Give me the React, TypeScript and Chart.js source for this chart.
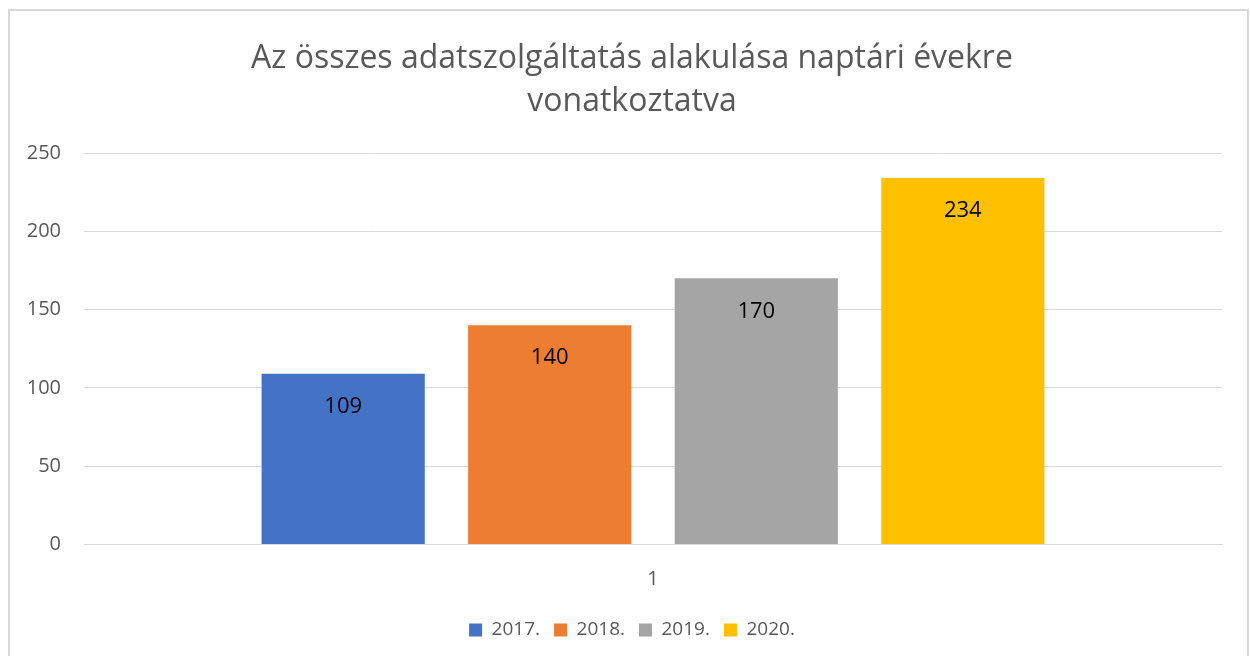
import React, { useEffect, useRef } from "react";
import { Chart, registerables } from "chart.js";

Chart.register(...registerables);

const categories = ["1"];
const seriesLabels = ["2017.", "2018.", "2019.", "2020."];
const values2017 = [109];
const values2018 = [140];
const values2019 = [170];
const values2020 = [234];
const seriesColors = ["#4472C4", "#ED7D31", "#A5A5A5", "#FFC000"];
const titleLines = ["Az összes adatszolgáltatás alakulása naptári évekre", "vonatkoztatva"];
const yMin = 0;
const yMax = 250;
const yStep = 50;

const FONT = "'Open Sans', 'Noto Sans', sans-serif";

const borderPlugin = {
  id: "outerBorder",
  beforeDraw(chart: any) {
    const ctx = chart.ctx;
    ctx.save();
    ctx.fillStyle = "#ffffff";
    ctx.fillRect(0, 0, chart.width, chart.height);
    ctx.strokeStyle = "#d9d9d9";
    ctx.lineWidth = 2;
    ctx.strokeRect(9, 10, 1239, 700);
    ctx.restore();
  },
};

// centre title and legend over the plot area (like the original) instead of the whole canvas
const centerPlugin = {
  id: "centerOverPlot",
  afterLayout(chart: any) {
    const shift = (chart.chartArea.left - chart.titleBlock.left) / 2 - 21;
    if (chart.titleBlock) chart.titleBlock.left += shift * 2;
    if (chart.legend) chart.legend.left += shift * 2;
  },
};

const valueLabelPlugin = {
  id: "valueLabels",
  afterDatasetsDraw(chart: any) {
    const ctx = chart.ctx;
    ctx.save();
    ctx.font = `22px ${FONT}`;
    ctx.fillStyle = "#000000";
    ctx.textAlign = "center";
    ctx.textBaseline = "middle";
    chart.data.datasets.forEach((ds: any, i: number) => {
      const meta = chart.getDatasetMeta(i);
      meta.data.forEach((el: any, j: number) => {
        ctx.fillText(String(ds.data[j]), el.x, el.y + 33);
      });
    });
    ctx.restore();
  },
};

export default function App() {
  const ref = useRef<HTMLCanvasElement | null>(null);
  useEffect(() => {
    document.body.style.overflow = "hidden";
    const allValues = [values2017, values2018, values2019, values2020];
    const chart = new Chart(ref.current as HTMLCanvasElement, {
      type: "bar",
      data: {
        labels: categories,
        datasets: seriesLabels.map((label, i) => ({
          label,
          data: allValues[i],
          backgroundColor: seriesColors[i],
          borderWidth: 0,
          categoryPercentage: 0.726,
          barPercentage: 0.79,
        })),
      },
      plugins: [borderPlugin, centerPlugin, valueLabelPlugin],
      options: {
        responsive: false,
        animation: false,
        layout: { padding: { left: 26, right: 28, top: 0, bottom: 6.6 } },
        plugins: {
          title: {
            display: true,
            text: titleLines,
            color: "#595959",
            font: { family: FONT, size: 32, weight: "normal", lineHeight: 1.344 },
            padding: { top: 37, bottom: 30 },
          },
          legend: {
            display: true,
            position: "bottom",
            labels: {
              boxWidth: 13,
              boxHeight: 13,
              color: "#595959",
              font: { family: FONT, size: 19 },
              padding: 14,
            },
          },
          tooltip: { enabled: false },
        },
        scales: {
          x: {
            grid: { display: false, drawTicks: false },
            border: { display: true, color: "#d9d9d9", width: 1, z: 1 },
            ticks: { color: "#595959", font: { family: FONT, size: 20 }, padding: 23 },
            afterFit(scale: any) {
              scale.height = 62;
            },
          },
          y: {
            min: yMin,
            max: yMax,
            ticks: { stepSize: yStep, color: "#595959", font: { family: FONT, size: 20 }, padding: 23 },
            grid: { color: "#d9d9d9", lineWidth: 1, drawTicks: false },
            border: { display: false },
            afterFit(scale: any) {
              scale.width = 58;
            },
          },
        },
      },
    } as any);
    return () => chart.destroy();
  }, []);
  return (
    <canvas
      ref={ref}
      width={1250}
      height={656}
      style={{ position: "fixed", left: 0, top: 0, display: "block" }}
    />
  );
}
